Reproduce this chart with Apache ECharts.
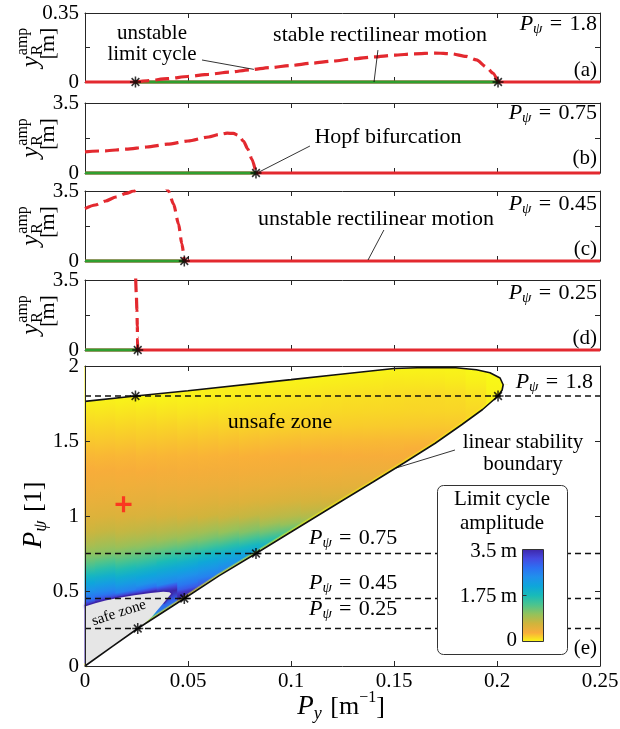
<!DOCTYPE html>
<html>
<head>
<meta charset="utf-8">
<title>Limit cycle amplitude</title>
<script src="https://cdn.jsdelivr.net/npm/echarts@6/dist/echarts.min.js"></script>
<style>
  html, body { margin: 0; padding: 0; background: #fff; }
  #chart { width: 620px; height: 729px; }
</style>
</head>
<body>
<div id="chart"></div>
<script>
// ---------------- data ----------------
// panels (a)-(d): one P_psi each
const panelPpsi = ['1.8', '0.75', '0.45', '0.25'];
const panelLetters = ['(a)', '(b)', '(c)', '(d)'];
const panelYMax = [0.35, 3.5, 3.5, 3.5];
const panelYLabels = [['0', '0.35'], ['0', '3.5'], ['0', '3.5'], ['0', '3.5']];

// unstable limit cycle amplitude [Py, y_amp]
const limitCycleA = [[0.0245,0],[0.03,0.006],[0.04,0.017],[0.05,0.028],[0.06,0.039],[0.07,0.05],[0.08,0.062],
  [0.09,0.073],[0.1,0.084],[0.11,0.095],[0.12,0.106],[0.13,0.117],[0.14,0.127],[0.15,0.136],[0.16,0.143],
  [0.17,0.147],[0.178,0.143],[0.185,0.13],[0.19,0.112],[0.195,0.075],[0.198,0.045],[0.2005,0]];
const limitCycleB = [[0,1.06],[0.01,1.11],[0.02,1.19],[0.03,1.3],[0.04,1.44],[0.05,1.6],[0.06,1.8],[0.065,1.92],
  [0.069,1.99],[0.072,1.98],[0.0745,1.88],[0.077,1.58],[0.079,1.2],[0.081,0.7],[0.083,0]];
const limitCycleC = [[0,2.62],[0.005,2.8],[0.01,3.0],[0.015,3.2],[0.02,3.38],[0.0236,3.5],[0.028,3.75],[0.032,3.9],
  [0.036,3.9],[0.039,3.7],[0.0405,3.5],[0.043,2.84],[0.0454,1.86],[0.047,0.87],[0.0482,0]];
const limitCycleD = [[0.0246,3.6],[0.0249,2.8],[0.0252,2.0],[0.0254,1.2],[0.0255,0.6],[0.0256,0]];
const limitCycles = [limitCycleA, limitCycleB, limitCycleC, limitCycleD];

// stable rectilinear motion ranges and Hopf points
const stableRanges = [[0.0245, 0.2005], [0, 0.083], [0, 0.0482], [0, 0.0256]];
const hopfPoints = [[[0.0245,0],[0.2005,0]], [[0.083,0]], [[0.0482,0]], [[0.0256,0]]];

// panel (e): linear stability boundary (lower branch up to the tip, then upper branch back)
const lowerBoundary = [[0,0],[0.013,0.127],[0.0256,0.25],[0.0482,0.45],[0.065,0.601],[0.083,0.75],[0.1,0.893],
  [0.124,1.095],[0.14,1.228],[0.155,1.355],[0.17,1.485],[0.183,1.61],[0.193,1.71],[0.2005,1.8],[0.2025,1.84],[0.203,1.875]];
const upperBoundary = [[0.203,1.875],[0.2015,1.92],[0.1966,1.955],[0.19,1.975],[0.18,1.988],[0.165,1.99],
  [0.15,1.983],[0.124,1.945],[0.1,1.909],[0.05,1.835],[0.0245,1.8],[0,1.764]];
// safe zone outline
const safeZone = [[0,0],[0.013,0.127],[0.0256,0.25],[0.029,0.285],[0.0325,0.329],[0.035,0.37],[0.038,0.418],
  [0.0405,0.46],[0.0418,0.482],[0.041,0.492],[0.038,0.495],[0.032,0.487],[0.024,0.472],[0.016,0.453],
  [0.01,0.436],[0.005,0.418],[0,0.397]];

// limit cycle amplitude field: columns at Py, each a list of [P_psi, amplitude]
const fieldPy = [0,0.01,0.02,0.03,0.04,0.05,0.06,0.07,0.08,0.09,0.1,0.11,0.12,0.13,0.14,0.15,0.16,0.17,0.18,0.19,0.2];
// slope dP_psi/dP_y of the colour bands around each column
const bandSlope = [1.5,2.2,2.6,2.8,2.8,3.0,3.0,3.0,2.8,2.5,2.0,1.6,1.3,1.1,1.0,0.9,0.8,0.7,0.6,0.5,0.4];
const fieldCols = [
  [[0.39,3.5],[0.41,3.2],[0.44,2.8],[0.5,2.4],[0.55,2.1],[0.6,1.82],[0.65,1.5],[0.7,1.25],[0.75,1.06],[0.8,0.92],[0.85,0.81],[0.9,0.72],[0.95,0.65],[1.0,0.58],[1.1,0.49],[1.2,0.42],[1.3,0.36],[1.4,0.3],[1.5,0.23],[1.6,0.16],[1.7,0.09],[1.77,0.04]],
  [[0.436,3.5],[0.45,3.1],[0.48,2.7],[0.5,2.53],[0.55,2.23],[0.6,1.94],[0.65,1.65],[0.7,1.37],[0.75,1.11],[0.8,0.98],[0.9,0.76],[1.0,0.6],[1.1,0.5],[1.2,0.43],[1.3,0.365],[1.4,0.305],[1.5,0.235],[1.6,0.165],[1.7,0.095],[1.78,0.04]],
  [[0.463,3.5],[0.475,3.1],[0.5,2.6],[0.55,2.27],[0.6,1.99],[0.65,1.7],[0.7,1.42],[0.75,1.19],[0.8,1.01],[0.85,0.88],[0.9,0.77],[1.0,0.61],[1.1,0.5],[1.2,0.43],[1.3,0.37],[1.4,0.31],[1.5,0.236],[1.6,0.165],[1.7,0.094],[1.795,0.03]],
  [[0.25,1.9],[0.33,2.3],[0.487,3.5],[0.5,3.15],[0.52,2.75],[0.55,2.41],[0.6,2.12],[0.65,1.86],[0.7,1.56],[0.75,1.3],[0.8,1.09],[0.85,0.93],[0.9,0.81],[1.0,0.63],[1.1,0.52],[1.2,0.44],[1.3,0.37],[1.4,0.31],[1.5,0.24],[1.6,0.17],[1.7,0.1],[1.8,0.02]],
  [[0.33,2.4],[0.43,2.9],[0.494,3.5],[0.51,3.3],[0.53,3.0],[0.55,2.56],[0.6,2.27],[0.65,2.01],[0.7,1.74],[0.75,1.44],[0.8,1.19],[0.85,0.98],[0.9,0.85],[1.0,0.65],[1.1,0.53],[1.2,0.44],[1.3,0.38],[1.4,0.315],[1.5,0.245],[1.6,0.173],[1.7,0.1],[1.8,0.03]],
  [[0.46,3.5],[0.48,3.45],[0.5,3.32],[0.52,2.98],[0.55,2.71],[0.6,2.43],[0.65,2.15],[0.7,1.9],[0.75,1.6],[0.8,1.3],[0.85,1.06],[0.9,0.9],[1.0,0.67],[1.1,0.54],[1.2,0.45],[1.3,0.38],[1.4,0.32],[1.5,0.25],[1.6,0.175],[1.7,0.1],[1.8,0.04]],
  [[0.54,3.12],[0.6,2.6],[0.65,2.34],[0.7,2.08],[0.75,1.8],[0.8,1.45],[0.85,1.17],[0.9,0.97],[1.0,0.7],[1.1,0.56],[1.2,0.46],[1.3,0.39],[1.4,0.325],[1.5,0.255],[1.6,0.18],[1.7,0.107],[1.8,0.05]],
  [[0.63,2.66],[0.65,2.53],[0.7,2.28],[0.75,1.99],[0.8,1.63],[0.85,1.29],[0.9,1.04],[1.0,0.73],[1.1,0.57],[1.2,0.47],[1.3,0.4],[1.4,0.33],[1.5,0.26],[1.6,0.185],[1.7,0.11],[1.8,0.06]],
  [[0.71,2.4],[0.75,2.16],[0.8,1.82],[0.85,1.43],[0.9,1.13],[1.0,0.77],[1.1,0.59],[1.2,0.48],[1.3,0.4],[1.4,0.335],[1.5,0.265],[1.6,0.19],[1.7,0.115],[1.8,0.07]],
  [[0.8,1.98],[0.85,1.57],[0.9,1.22],[0.95,0.97],[1.0,0.8],[1.1,0.61],[1.2,0.49],[1.3,0.41],[1.4,0.34],[1.5,0.27],[1.6,0.19],[1.7,0.12],[1.8,0.08],[1.9,0.03]],
  [[0.88,1.43],[0.9,1.33],[0.95,1.03],[1.0,0.84],[1.1,0.63],[1.2,0.5],[1.3,0.42],[1.4,0.345],[1.5,0.275],[1.6,0.195],[1.7,0.13],[1.8,0.09],[1.91,0.03]],
  [[0.96,1.04],[1.0,0.87],[1.05,0.75],[1.1,0.65],[1.2,0.51],[1.3,0.43],[1.4,0.35],[1.5,0.28],[1.6,0.2],[1.7,0.14],[1.8,0.1],[1.925,0.03]],
  [[1.05,0.77],[1.1,0.67],[1.15,0.58],[1.2,0.52],[1.3,0.43],[1.4,0.355],[1.5,0.285],[1.6,0.205],[1.7,0.15],[1.8,0.11],[1.94,0.03]],
  [[1.13,0.63],[1.2,0.53],[1.3,0.44],[1.4,0.36],[1.5,0.29],[1.6,0.21],[1.7,0.155],[1.8,0.12],[1.955,0.03]],
  [[1.21,0.53],[1.3,0.44],[1.4,0.365],[1.5,0.295],[1.6,0.215],[1.7,0.16],[1.8,0.127],[1.968,0.03]],
  [[1.3,0.45],[1.4,0.37],[1.5,0.3],[1.6,0.22],[1.7,0.165],[1.8,0.136],[1.9,0.08],[1.98,0.03]],
  [[1.38,0.39],[1.45,0.34],[1.5,0.305],[1.6,0.225],[1.7,0.17],[1.8,0.143],[1.9,0.08],[1.986,0.03]],
  [[1.47,0.33],[1.55,0.27],[1.6,0.23],[1.7,0.17],[1.8,0.147],[1.9,0.08],[1.99,0.03]],
  [[1.56,0.26],[1.62,0.215],[1.7,0.17],[1.8,0.141],[1.9,0.07],[1.988,0.03]],
  [[1.66,0.18],[1.72,0.15],[1.8,0.112],[1.9,0.05],[1.975,0.02]],
  [[1.77,0.05],[1.85,0.03],[1.94,0.01]]
];
const dashLevels = [1.8, 0.75, 0.45, 0.25];
const hopfPointsE = [[0.0245,1.8],[0.2005,1.8],[0.083,0.75],[0.0482,0.45],[0.0256,0.25]];
const crossPoint = [[0.0187, 1.078]];

// pointer lines of the annotations [gridIndex, from, to]
const pointers = [
  [0, [0.0568, 0.1116], [0.082, 0.064]],
  [0, [0.1422, 0.162], [0.1403, 0.0]],
  [1, [0.1092, 1.35], [0.0845, 0.05]],
  [2, [0.1451, 1.55], [0.1374, 0.05]],
  [4, [0.1796, 1.44], [0.151, 1.32]]
];

// colour map (value 0 .. 3.5), flipped parula
const ampMax = 3.5;
const cmapColors = ['#f9fb15', '#f9ad3a', '#d0b43c', '#93c25c', '#4cc48e', '#19bbb8',
  '#0ea6da', '#2090ec', '#2d6ff2', '#4549e0', '#3e26a8'];

// ---------------- helpers ----------------
const FONT = 'Liberation Serif';
const RED = '#e3292f', GREEN = '#2f9f2f', AX = '#262626';
const STAR = 'path://M0,4.3L10,4.3L10,5.7L0,5.7Z M4.3,0L5.7,0L5.7,10L4.3,10Z M2,1L9,8L8,9L1,2Z M8,1L9,2L2,9L1,8Z';
const PLUS = 'path://M4,0L6,0L6,4L10,4L10,6L6,6L6,10L4,10L4,6L0,6L0,4L4,4Z';

const cmapRgb = cmapColors.map(h => [parseInt(h.slice(1, 3), 16), parseInt(h.slice(3, 5), 16), parseInt(h.slice(5, 7), 16)]);
function ampColor(a) {
  const t = Math.max(0, Math.min(1, a / ampMax)) * (cmapRgb.length - 1);
  const k = Math.min(Math.floor(t), cmapRgb.length - 2), f = t - k;
  const c = cmapRgb[k].map((v, j) => Math.round(v + (cmapRgb[k + 1][j] - v) * f));
  return 'rgb(' + c.join(',') + ')';
}

const measureCtx = document.createElement('canvas').getContext('2d');
function textWidth(str, size, italic) {
  measureCtx.font = (italic ? 'italic ' : '') + size + 'px "' + FONT + '"';
  return measureCtx.measureText(str).width;
}
function tx(text, x, y, size, italic, align) {
  return {
    type: 'text', x: x, y: y, z: 102, silent: true,
    style: { text: text, fontSize: size, fontFamily: FONT, fontStyle: italic ? 'italic' : 'normal',
      fill: '#000', align: align || 'left', verticalAlign: 'middle' }
  };
}
// parts: [text, size, italic, dy]
function mathText(parts, x, y, align, rotation) {
  const widths = parts.map(p => textWidth(p[0], p[1], p[2]));
  const total = widths.reduce((s, w) => s + w, 0);
  let cx = align === 'right' ? -total : (align === 'center' ? -total / 2 : 0);
  const children = parts.map((p, k) => { const el = tx(p[0], cx, p[3] || 0, p[1], p[2]); cx += widths[k]; return el; });
  return { type: 'group', x: x, y: y, rotation: rotation || 0, z: 102, children: children };
}
function pPsi(value, x, y, align) {
  return mathText([['P', 22, true, 0], ['ψ', 15, true, 5], ['\u2004=\u2004' + value, 22, false, 0]], x, y, align);
}
function yampLabel(cx, cy) {
  const wy = textWidth('y', 25, true), wsup = textWidth('amp', 16, false), wsub = textWidth('R', 16, false);
  const w1 = wy + Math.max(wsup, wsub) + 1, wm = textWidth('[m]', 22, false);
  return { type: 'group', x: cx, y: cy, rotation: Math.PI / 2, z: 102, children: [
    tx('y', -w1 / 2, 0, 25, true),
    tx('amp', -w1 / 2 + wy + 1, -8, 16, false),
    tx('R', -w1 / 2 + wy + 1, 7, 16, false),
    tx('[m]', -wm / 2 + 4, 17, 22, false)
  ]};
}
function centerText(text, x, y, size, rot) {
  const el = tx(text, x, y, size, false, 'center');
  if (rot) el.rotation = rot;
  return el;
}

// ---------------- layout ----------------
const grids = [
  { left: 85, top: 13, width: 515, height: 69 },
  { left: 85, top: 103, width: 515, height: 70 },
  { left: 85, top: 191, width: 515, height: 70 },
  { left: 85, top: 280, width: 515, height: 70 },
  { left: 85, top: 366, width: 515, height: 300 }
].map(g => Object.assign({ outerBoundsMode: 'none', containLabel: false }, g));

const labelStyle = { color: '#000', fontFamily: FONT, fontSize: 21 };
const xAxes = [], yAxes = [];
for (let i = 0; i < 5; i++) {
  const az = i === 4 ? 10 : 1;
  ['bottom', 'top'].forEach(pos => {
    xAxes.push({
      type: 'value', gridIndex: i, position: pos, min: 0, max: 0.25, interval: 0.05, z: az,
      axisLine: { show: true, onZero: false, lineStyle: { color: AX, width: 1 } },
      axisTick: { show: true, inside: true, length: 5, lineStyle: { color: AX, width: 1 } },
      axisLabel: Object.assign({ show: i === 4 && pos === 'bottom', margin: 5 }, labelStyle),
      splitLine: { show: false }
    });
  });
  const ymax = i < 4 ? panelYMax[i] : 2;
  ['left', 'right'].forEach(pos => {
    yAxes.push({
      type: 'value', gridIndex: i, position: pos, min: 0, max: ymax, interval: i < 4 ? ymax / 2 : 0.5, z: az,
      axisLine: { show: true, onZero: false, lineStyle: { color: AX, width: 1 } },
      axisTick: { show: true, inside: true, length: 5, lineStyle: { color: AX, width: 1 } },
      axisLabel: Object.assign({
        show: pos === 'left', margin: 6,
        formatter: i < 4
          ? (v => Math.abs(v) < 1e-9 ? panelYLabels[i][0] : (Math.abs(v - ymax) < 1e-9 ? panelYLabels[i][1] : ''))
          : (v => String(v))
      }, labelStyle),
      splitLine: { show: false }
    });
  });
}

// ---------------- series ----------------
const series = [];
for (let i = 0; i < 4; i++) {
  const ax = { xAxisIndex: 2 * i, yAxisIndex: 2 * i, silent: true, animation: false };
  series.push(Object.assign({ type: 'line', data: [[0, 0], [0.25, 0]], symbol: 'none', z: 2, clip: false,
    lineStyle: { color: RED, width: 3 } }, ax));
  series.push(Object.assign({ type: 'line', data: [[stableRanges[i][0], 0], [stableRanges[i][1], 0]], symbol: 'none', z: 3, clip: false,
    lineStyle: { color: GREEN, width: 3 } }, ax));
  series.push(Object.assign({ type: 'line', data: limitCycles[i], symbol: 'none', smooth: 0.25, smoothMonotone: 'x', z: 4,
    lineStyle: { color: RED, width: 3.2, type: [14, 6] } }, ax));
  series.push(Object.assign({ type: 'scatter', data: hopfPoints[i], symbol: STAR, symbolSize: 11, z: 6, clip: false,
    itemStyle: { color: '#000' } }, ax));
}
const axE = { xAxisIndex: 8, yAxisIndex: 8, silent: true, animation: false };

// amplitude field as strips; each strip is shaded from its own column of values,
// with the shading tilted along the local slope of the colour bands
series.push(Object.assign({
  type: 'custom', coordinateSystem: 'cartesian2d', z: 1,
  data: fieldPy.map((x, i) => [x, i]),
  renderItem: function (params, api) {
    const i = params.dataIndex, xc = fieldPy[i], stops = fieldCols[i];
    const xl = Math.max(xc - 0.005, 0), xr = Math.min(xc + 0.005, 0.25);
    const pl = api.coord([xl, 0]), pr = api.coord([xr, 2]);
    const c0 = api.coord([xc, stops[0][0]]), c1 = api.coord([xc, stops[stops.length - 1][0]]);
    const q = api.coord([xc + 0.01, stops[0][0] + bandSlope[i] * 0.01]);
    let vx = q[0] - c0[0], vy = q[1] - c0[1];
    const len = Math.hypot(vx, vy); vx /= len; vy /= len;
    let nx = -vy, ny = vx;
    if (ny > 0) { nx = -nx; ny = -ny; }
    const L = (c1[1] - c0[1]) * ny;
    const colorStops = stops.map(s => ({ offset: (c0[1] - api.coord([xc, s[0]])[1]) / (c0[1] - c1[1]), color: ampColor(s[1]) }));
    return {
      type: 'rect',
      shape: { x: pl[0] - 0.5, y: pr[1], width: pr[0] - pl[0] + 1, height: pl[1] - pr[1] },
      style: { fill: new echarts.graphic.LinearGradient(c0[0], c0[1], c0[0] + nx * L, c0[1] + ny * L, colorStops, true) }
    };
  }
}, axE));
// amplitude goes to zero right at the stability boundary
series.push(Object.assign({
  type: 'custom', coordinateSystem: 'cartesian2d', z: 2, data: [[0, 0]],
  renderItem: function (params, api) {
    const pts = lowerBoundary.map(p => api.coord(p));
    return { type: 'group', children: [
      { type: 'polyline', shape: { points: pts }, style: { stroke: cmapColors[0], lineWidth: 5, opacity: 0.4, fill: 'none' } },
      { type: 'polyline', shape: { points: pts }, style: { stroke: cmapColors[0], lineWidth: 2.6, opacity: 0.8, fill: 'none' } }
    ]};
  }
}, axE));
// safe zone with the dark rim of the largest amplitudes along its upper edge
series.push(Object.assign({
  type: 'custom', coordinateSystem: 'cartesian2d', z: 3, data: [[0, 0]],
  renderItem: function (params, api) {
    const pts = safeZone.map(p => api.coord(p));
    const rim = safeZone.slice(6).map(p => api.coord(p));
    return { type: 'group', children: [
      { type: 'polyline', shape: { points: rim }, style: { fill: 'none', stroke: cmapColors[10], lineWidth: 2.5,
        shadowBlur: 3, shadowColor: cmapColors[10] } },
      { type: 'polygon', shape: { points: pts }, style: { fill: '#e6e6e6', stroke: 'none' } }
    ]};
  }
}, axE));
// white outside of the unstable region
series.push(Object.assign({
  type: 'custom', coordinateSystem: 'cartesian2d', z: 4, data: [[0, 0]],
  renderItem: function (params, api) {
    const tip = lowerBoundary[lowerBoundary.length - 1];
    const below = lowerBoundary.concat([[0.25, tip[1]], [0.25, 0]]).map(p => api.coord(p));
    const above = [[0, 2]].concat(upperBoundary.slice().reverse(), [[0.25, tip[1]], [0.25, 2]]).map(p => api.coord(p));
    return { type: 'group', children: [
      { type: 'polygon', shape: { points: below }, style: { fill: '#fff' } },
      { type: 'polygon', shape: { points: above }, style: { fill: '#fff' } }
    ]};
  }
}, axE));
series.push(Object.assign({ type: 'line', data: lowerBoundary.concat(upperBoundary.slice(1)), symbol: 'none', z: 5,
  lineStyle: { color: '#111', width: 1.6 } }, axE));
dashLevels.forEach(p => series.push(Object.assign({ type: 'line', data: [[0, p], [0.25, p]], symbol: 'none', z: 6,
  lineStyle: { color: '#111', width: 1.5, type: [6, 4] } }, axE)));
series.push(Object.assign({ type: 'scatter', data: hopfPointsE, symbol: STAR, symbolSize: 11, z: 7,
  itemStyle: { color: '#000' } }, axE));
series.push(Object.assign({ type: 'scatter', data: crossPoint, symbol: PLUS, symbolSize: 16, z: 7,
  itemStyle: { color: '#ff1a1a' } }, axE));
pointers.forEach(pt => series.push({ type: 'line', xAxisIndex: 2 * pt[0], yAxisIndex: 2 * pt[0], data: [pt[1], pt[2]],
  symbol: 'none', z: 8, silent: true, animation: false, lineStyle: { color: '#000', width: 0.8 } }));

// ---------------- texts ----------------
const graphics = [];
const letterY = [70, 158, 249, 338], psiY = [24, 113, 204, 293];
for (let i = 0; i < 4; i++) {
  graphics.push(yampLabel(31, grids[i].top + grids[i].height / 2));
  graphics.push(tx(panelLetters[i], 597, letterY[i], 21, false, 'right'));
  graphics.push(pPsi(panelPpsi[i], 597, psiY[i], 'right'));
}
graphics.push(centerText('unstable', 152, 33, 21));
graphics.push(centerText('limit cycle', 152, 54, 21));
graphics.push(centerText('stable rectilinear motion', 380, 35, 22));
graphics.push(centerText('Hopf bifurcation', 388, 137, 22));
graphics.push(centerText('unstable rectilinear motion', 376, 219, 22));
graphics.push(centerText('unsafe zone', 280, 422, 22));
graphics.push(centerText('safe zone', 119, 613, 15, 18 * Math.PI / 180));
graphics.push(centerText('linear stability', 523, 442, 21));
graphics.push(centerText('boundary', 523, 464, 21));
graphics.push(pPsi('1.8', 593, 382, 'right'));
graphics.push(pPsi('0.75', 309, 538, 'left'));
graphics.push(pPsi('0.45', 309, 583, 'left'));
graphics.push(pPsi('0.25', 309, 609, 'left'));
graphics.push(tx('(e)', 597, 648, 21, false, 'right'));
// axis names
graphics.push(mathText([['P', 27, true, 0], ['ψ', 18, true, 7], ['\u2004[1]', 26, false, 0]], 34, 515, 'center', Math.PI / 2));
graphics.push(mathText([['P', 27, true, 0], ['y', 18, true, 7], ['\u2004[m', 26, false, 0], ['−1', 16, false, -9], [']', 26, false, 0]], 341, 707, 'center'));
// colour bar legend
const barStops = cmapColors.map((c, k) => ({ offset: 1 - k / (cmapColors.length - 1), color: c })).reverse();
graphics.push({ type: 'rect', z: 100, silent: true, shape: { x: 437.5, y: 485.5, width: 130, height: 169, r: 6 },
  style: { fill: '#fff', stroke: '#333', lineWidth: 1 } });
graphics.push({ type: 'rect', z: 101, silent: true, shape: { x: 522.5, y: 549.5, width: 21, height: 92 },
  style: { fill: new echarts.graphic.LinearGradient(0, 0, 0, 1, barStops), stroke: '#333', lineWidth: 1 } });
graphics.push({ type: 'line', z: 102, silent: true, shape: { x1: 522.5, y1: 595.5, x2: 526.5, y2: 595.5 },
  style: { stroke: '#333', lineWidth: 1 } });
graphics.push(centerText('Limit cycle', 502, 499, 21));
graphics.push(centerText('amplitude', 502, 523, 21));
['3.5\u2009m', '1.75\u2009m', '0'].forEach((t, k) => graphics.push(tx(t, 517, [551, 596, 640][k], 21, false, 'right')));

const chart = echarts.init(document.getElementById('chart'), null, { renderer: 'canvas' });
chart.setOption({
  animation: false,
  backgroundColor: '#fff',
  grid: grids,
  xAxis: xAxes,
  yAxis: yAxes,
  series: series,
  graphic: { elements: graphics }
});
</script>
</body>
</html>
